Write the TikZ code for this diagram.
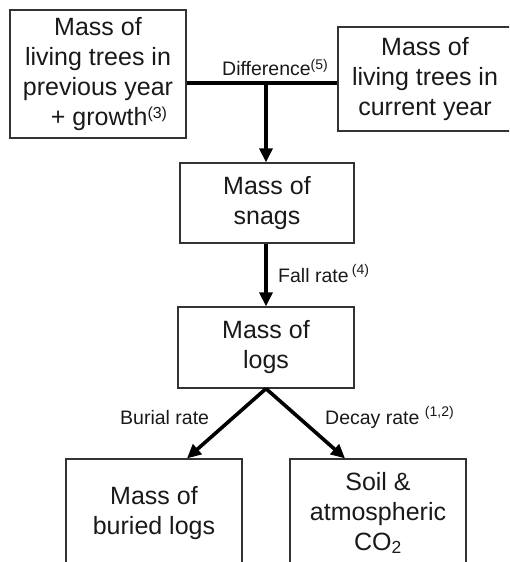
\documentclass[tikz,border=0pt]{standalone}
\usepackage{fontspec}
\setmainfont{Liberation Sans}
\usetikzlibrary{arrows.meta}
\tikzset{
  box/.style={draw=black!80, line width=1.3pt, rectangle, align=center, inner sep=0pt,
    font=\fontsize{25}{30}\selectfont, text=black!90},
  flow/.style={line width=3.6pt, -{Triangle[length=14pt,width=13pt]}},
  bar/.style={line width=3.8pt},
  lbl/.style={font=\fontsize{19.5}{21}\selectfont, inner sep=0pt, anchor=base west, text=black!90},
}
\newcommand{\supnum}[3]{\raisebox{#1}{\fontsize{#2}{#2}\selectfont #3}}
\begin{document}
\begin{tikzpicture}[x=1pt,y=1pt]
\useasboundingbox (0,0) rectangle (509,-562);
\clip (0,0) rectangle (509,-562);
\node[box, minimum width=176pt, minimum height=128pt] (prev) at (98,-74)
  {Mass of\\living trees in\\previous year\\\hspace*{22pt}+ growth\supnum{7pt}{16}{(3)}};
\node[box, minimum width=174pt, minimum height=104pt] (curr) at (425,-79)
  {Mass of\\living trees in\\current year};
\node[box, minimum width=174pt, minimum height=80pt] (snag) at (267,-203)
  {Mass of\\snags};
\node[box, minimum width=176pt, minimum height=81pt] (logs) at (266,-347.5)
  {Mass of\\logs};
\node[box, minimum width=176pt, minimum height=108pt] (buried) at (154,-513)
  {Mass of\\buried logs};
\node[box, minimum width=176pt, minimum height=108pt] (soil) at (378,-513)
  {Soil \&\\atmospheric\\CO\textsubscript{2}};
\coordinate (J) at (266,-83);
\draw[bar] (prev.east |- J) -- (curr.west |- J);
\draw[flow] (J) -- (snag.north -| J);
\draw[flow] (snag.south -| J) -- (logs.north -| J);
\draw[flow] (logs.south -| J) -- ([xshift=33pt]buried.north);
\draw[flow] (logs.south -| J) -- ([xshift=-33pt]soil.north);
\node[lbl] (ldiff) at (222,-75) {Difference\supnum{6pt}{14}{(5)}};
\node[lbl] (lfall) at (278,-282) {Fall rate\,\supnum{8pt}{14}{(4)}};
\node[lbl] (lburial) at (120,-424) {Burial rate};
\node[lbl] (ldecay) at (325,-424) {Decay rate \supnum{8pt}{14}{(1,2)}};
\end{tikzpicture}
\end{document}
